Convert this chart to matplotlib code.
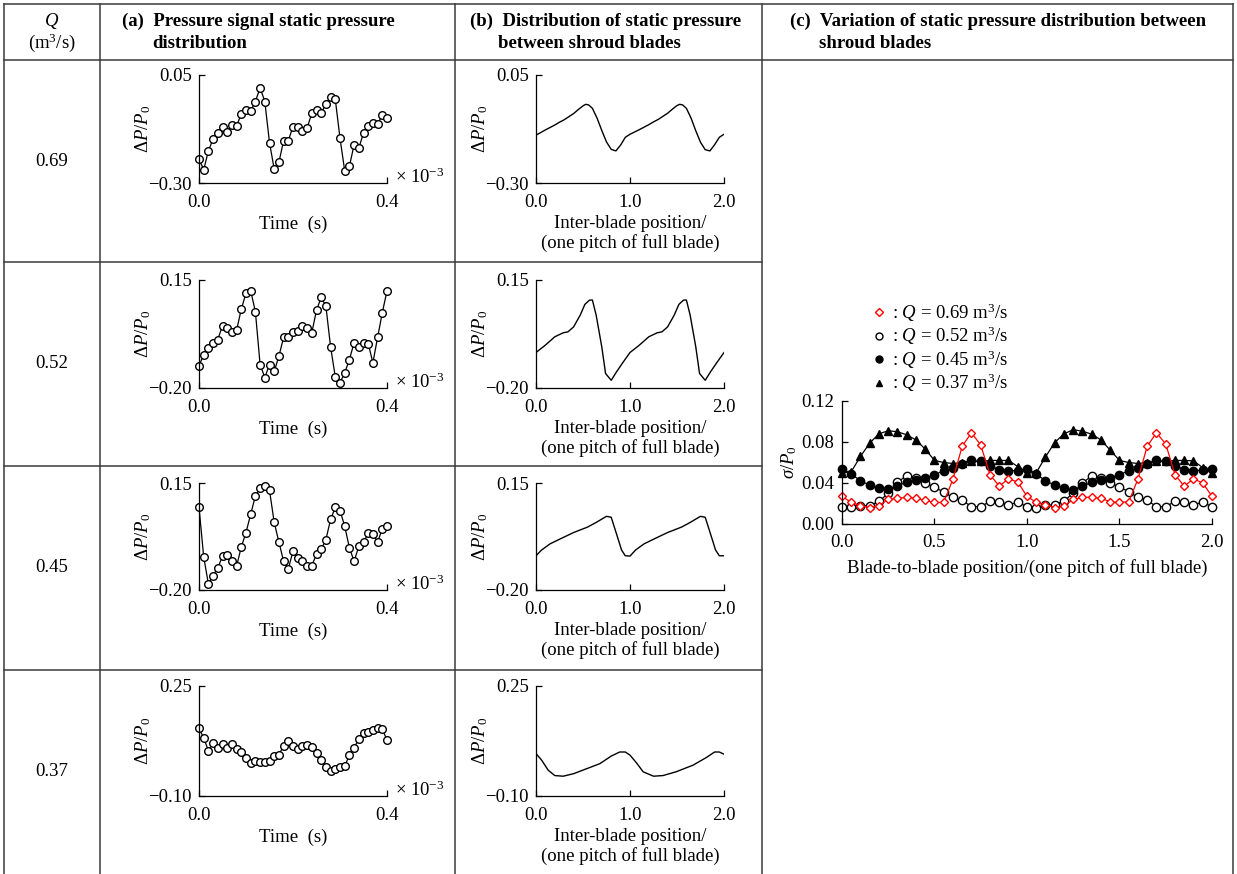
import numpy as np
import matplotlib
matplotlib.use('Agg')
import matplotlib.pyplot as plt
from matplotlib.lines import Line2D

plt.rcParams['font.family'] = ['Liberation Serif', 'DejaVu Serif']
plt.rcParams['mathtext.fontset'] = 'custom'
plt.rcParams['mathtext.rm'] = 'Liberation Serif'
plt.rcParams['mathtext.it'] = 'Liberation Serif:italic'
plt.rcParams['mathtext.bf'] = 'Liberation Serif:bold'
plt.rcParams['font.size'] = 13.5

W, H = 1237, 874
FS = 13.5

# flow rates, one table row each
flow_rates = ['0.69', '0.52', '0.45', '0.37']

# (a) pressure signal, time in 1e-3 s
time_ms = np.linspace(0.0, 0.4, 41)
signal_069 = [-0.222, -0.257, -0.196, -0.157, -0.138, -0.117, -0.136, -0.112, -0.114, -0.077,
              -0.063, -0.066, -0.036, 0.009, -0.036, -0.169, -0.255, -0.233, -0.163, -0.163,
              -0.117, -0.117, -0.131, -0.122, -0.074, -0.065, -0.072, -0.045, -0.020, -0.029,
              -0.155, -0.260, -0.246, -0.176, -0.187, -0.138, -0.114, -0.106, -0.109, -0.079,
              -0.090]
signal_052 = [-0.128, -0.092, -0.070, -0.054, -0.043, 0.002, -0.004, -0.018, -0.013, 0.056,
              0.107, 0.115, 0.047, -0.124, -0.166, -0.124, -0.146, -0.097, -0.036, -0.034,
              -0.018, -0.015, 0.000, -0.007, -0.021, 0.052, 0.094, 0.065, -0.067, -0.164,
              -0.183, -0.151, -0.108, -0.053, -0.067, -0.054, -0.056, -0.118, -0.036, 0.044,
              0.115]
signal_045 = [0.071, -0.092, -0.180, -0.153, -0.127, -0.090, -0.087, -0.105, -0.122, -0.059,
              -0.012, 0.048, 0.108, 0.133, 0.139, 0.126, 0.021, -0.043, -0.106, -0.131,
              -0.073, -0.095, -0.105, -0.120, -0.120, -0.083, -0.067, -0.035, 0.031, 0.070,
              0.060, 0.009, -0.062, -0.106, -0.057, -0.043, -0.015, -0.018, -0.043, 0.000,
              0.010]
signal_037 = [0.115, 0.085, 0.044, 0.069, 0.054, 0.065, 0.054, 0.067, 0.048, 0.040,
              0.022, 0.006, 0.011, 0.009, 0.009, 0.012, 0.028, 0.032, 0.059, 0.074,
              0.059, 0.051, 0.059, 0.062, 0.056, 0.038, 0.014, -0.009, -0.021, -0.015,
              -0.007, -0.005, 0.030, 0.054, 0.081, 0.102, 0.104, 0.110, 0.117, 0.113,
              0.078]
signals = [signal_069, signal_052, signal_045, signal_037]

# (b) static pressure between shroud blades
pos_069 = [0.0, 0.1, 0.2, 0.25, 0.3, 0.4, 0.45, 0.5, 0.53, 0.56, 0.6, 0.65, 0.7, 0.75, 0.8, 0.85, 0.9, 0.95,
           1.0, 1.1, 1.2, 1.25, 1.3, 1.4, 1.45, 1.5, 1.53, 1.56, 1.6, 1.65, 1.7, 1.75, 1.8, 1.85, 1.9, 1.95, 2.0]
dist_069 = [-0.145, -0.128, -0.112, -0.103, -0.095, -0.075, -0.062, -0.050, -0.045, -0.047, -0.058, -0.090,
            -0.130, -0.167, -0.191, -0.196, -0.177, -0.152,
            -0.142, -0.127, -0.111, -0.102, -0.094, -0.074, -0.061, -0.049, -0.045, -0.047, -0.058, -0.090,
            -0.131, -0.168, -0.192, -0.196, -0.176, -0.152, -0.142]
pos_052 = [0.0, 0.1, 0.2, 0.29, 0.34, 0.4, 0.47, 0.52, 0.57, 0.6, 0.64, 0.7, 0.74, 0.8, 0.86, 0.93,
           1.0, 1.1, 1.2, 1.29, 1.34, 1.4, 1.47, 1.52, 1.57, 1.6, 1.64, 1.7, 1.74, 1.8, 1.86, 1.93, 2.0]
dist_052 = [-0.085, -0.061, -0.034, -0.021, -0.018, -0.002, 0.036, 0.071, 0.085, 0.085,
            0.036, -0.067, -0.153, -0.175, -0.146, -0.115,
            -0.085, -0.061, -0.034, -0.021, -0.018, -0.002, 0.036, 0.071, 0.085, 0.085,
            0.036, -0.067, -0.153, -0.175, -0.146, -0.115, -0.085]
pos_045 = [0.0, 0.06, 0.15, 0.25, 0.4, 0.55, 0.64, 0.75, 0.8, 0.86, 0.91, 0.95,
           1.0, 1.06, 1.15, 1.25, 1.4, 1.55, 1.64, 1.75, 1.8, 1.86, 1.91, 1.95, 2.0]
dist_045 = [-0.088, -0.069, -0.049, -0.034, -0.012, 0.006, 0.021, 0.041, 0.038, -0.020, -0.069, -0.088,
            -0.089, -0.069, -0.049, -0.034, -0.012, 0.006, 0.021, 0.041, 0.038, -0.020, -0.069, -0.088,
            -0.088]
pos_037 = [0.0, 0.06, 0.13, 0.2, 0.29, 0.4, 0.54, 0.68, 0.8, 0.89, 0.95, 1.0,
           1.07, 1.14, 1.25, 1.35, 1.49, 1.67, 1.81, 1.9, 1.95, 2.0]
dist_037 = [0.035, 0.014, -0.018, -0.035, -0.037, -0.029, -0.013, 0.003, 0.027, 0.040, 0.040, 0.030,
            0.005, -0.023, -0.037, -0.035, -0.023, -0.002, 0.022, 0.040, 0.040, 0.033]
positions = [pos_069, pos_052, pos_045, pos_037]
distributions = [dist_069, dist_052, dist_045, dist_037]

ylims = [(-0.30, 0.05), (-0.20, 0.15), (-0.20, 0.15), (-0.10, 0.25)]
ylabels_txt = [('\u22120.30', '0.05'), ('\u22120.20', '0.15'), ('\u22120.20', '0.15'), ('\u22120.10', '0.25')]

# (c) standard deviation of static pressure
pos_c = np.linspace(0.0, 2.0, 41)
sigma_069 = [0.027, 0.021, 0.018, 0.016, 0.018, 0.024, 0.025, 0.026, 0.025, 0.023,
             0.021, 0.021, 0.044, 0.076, 0.089, 0.077, 0.048, 0.037, 0.044, 0.041,
             0.027, 0.021, 0.0185, 0.016, 0.0175, 0.024, 0.026, 0.026, 0.025, 0.0217,
             0.021, 0.0217, 0.044, 0.076, 0.089, 0.078, 0.048, 0.037, 0.044, 0.040,
             0.027]
sigma_052 = [0.017, 0.017, 0.018, 0.018, 0.022, 0.030, 0.041, 0.047, 0.045, 0.040,
             0.036, 0.031, 0.026, 0.023, 0.017, 0.017, 0.022, 0.021, 0.019, 0.021,
             0.017, 0.016, 0.0185, 0.0185, 0.0227, 0.030, 0.040, 0.047, 0.045, 0.040,
             0.036, 0.0315, 0.026, 0.023, 0.017, 0.017, 0.022, 0.021, 0.019, 0.021,
             0.017]
sigma_045 = [0.054, 0.049, 0.042, 0.038, 0.035, 0.034, 0.037, 0.041, 0.043, 0.045,
             0.048, 0.052, 0.055, 0.059, 0.062, 0.061, 0.057, 0.053, 0.052, 0.052,
             0.054, 0.049, 0.042, 0.038, 0.035, 0.033, 0.037, 0.0405, 0.043, 0.045,
             0.048, 0.052, 0.055, 0.059, 0.062, 0.061, 0.057, 0.053, 0.052, 0.0525,
             0.054]
sigma_037 = [0.050, 0.051, 0.066, 0.079, 0.088, 0.091, 0.090, 0.087, 0.082, 0.073,
             0.062, 0.060, 0.059, 0.060, 0.061, 0.061, 0.062, 0.062, 0.062, 0.056,
             0.050, 0.050, 0.0655, 0.0795, 0.088, 0.092, 0.0905, 0.0876, 0.082, 0.072,
             0.062, 0.060, 0.059, 0.060, 0.061, 0.061, 0.062, 0.062, 0.0616, 0.055,
             0.050]
legend_txt = [r': $Q$ = 0.69 m$^3$/s', r': $Q$ = 0.52 m$^3$/s',
              r': $Q$ = 0.45 m$^3$/s', r': $Q$ = 0.37 m$^3$/s']


def px_axes(fig, x0, y0, x1, y1):
    # axes placed by pixel box (top-left origin)
    return fig.add_axes([x0 / W, 1 - y1 / H, (x1 - x0) / W, (y1 - y0) / H])


def style_axes(ax):
    ax.spines['top'].set_visible(False)
    ax.spines['right'].set_visible(False)
    for s in ('left', 'bottom'):
        ax.spines[s].set_linewidth(0.9)
    ax.tick_params(direction='in', length=4, width=0.9, labelsize=FS)
    ax.tick_params(axis='x', pad=8)
    ax.tick_params(axis='y', pad=5)


fig = plt.figure(figsize=(W / 100, H / 100), dpi=100)

# table grid: column (c) is one merged cell below the header
line_kw = dict(color='#3a3a3a', lw=1.1)
col_edges = [4, 100, 455, 762, 1233]
for y in [4, 60]:
    fig.add_artist(Line2D([4 / W, 1233 / W], [1 - y / H, 1 - y / H], **line_kw))
for y in [262, 466, 670]:
    fig.add_artist(Line2D([4 / W, 762 / W], [1 - y / H, 1 - y / H], **line_kw))
for x in col_edges:
    fig.add_artist(Line2D([x / W, x / W], [1 - 4 / H, 0], **line_kw))

# header
fig.text(52 / W, 1 - 21 / H, r'$Q$', ha='center', va='center', fontsize=FS)
fig.text(52 / W, 1 - 43 / H, r'(m$^3$/s)', ha='center', va='center', fontsize=FS)
hdr = dict(fontweight='bold', fontsize=FS, va='center', ha='left')
fig.text(122 / W, 1 - 21 / H, '(a)  Pressure signal static pressure', **hdr)
fig.text(152 / W, 1 - 43 / H, 'distribution', **hdr)
fig.text(470 / W, 1 - 21 / H, '(b)  Distribution of static pressure', **hdr)
fig.text(498 / W, 1 - 43 / H, 'between shroud blades', **hdr)
fig.text(790 / W, 1 - 21 / H, '(c)  Variation of static pressure distribution between', **hdr)
fig.text(819 / W, 1 - 43 / H, 'shroud blades', **hdr)

ax_tops = [75, 280, 483, 686]
ax_bots = [183, 388, 590, 796]
row_mid = [161, 364, 568, 772]

for i in range(4):
    fig.text(52 / W, 1 - row_mid[i] / H, flow_rates[i], ha='center', va='center', fontsize=FS)
    lo, hi = ylims[i]

    # (a) time signal
    ax = px_axes(fig, 199, ax_tops[i], 387, ax_bots[i])
    ax.plot(time_ms, signals[i], color='black', lw=0.9, marker='o', ms=5.5,
            mfc='white', mec='black', mew=1.0, clip_on=False)
    ax.set_xlim(0, 0.4)
    ax.set_ylim(lo, hi)
    ax.set_xticks([0, 0.4])
    ax.set_xticklabels(['0.0', '0.4'])
    ax.set_yticks([lo, hi])
    ax.set_yticklabels(ylabels_txt[i])
    style_axes(ax)
    ax.set_ylabel(r'$\mathit{\Delta P/P}_0$', fontsize=FS, labelpad=-3)
    ax.set_xlabel('Time  (s)', fontsize=FS, labelpad=3)
    ax.text(1.04, 0.05, r'$\times\ 10^{-3}$', transform=ax.transAxes,
            ha='left', va='center', fontsize=FS)

    # (b) inter-blade distribution
    ax = px_axes(fig, 536, ax_tops[i], 724, ax_bots[i])
    ax.plot(positions[i], distributions[i], color='black', lw=1.0)
    ax.set_xlim(0, 2)
    ax.set_ylim(lo, hi)
    ax.set_xticks([0, 1, 2])
    ax.set_xticklabels(['0.0', '1.0', '2.0'])
    ax.set_yticks([lo, hi])
    ax.set_yticklabels(ylabels_txt[i])
    style_axes(ax)
    ax.set_ylabel(r'$\mathit{\Delta P/P}_0$', fontsize=FS, labelpad=-3)
    ax.set_xlabel('Inter-blade position/\n(one pitch of full blade)', fontsize=FS,
                  labelpad=3, linespacing=1.1)

# (c) sigma between shroud blades
axc = px_axes(fig, 842, 401, 1212, 524)
mk = dict(ms=6, mew=1.0, lw=0.9, clip_on=False)
axc.plot(pos_c, sigma_052, color='black', marker='o', mfc='white', mec='black', **mk)
axc.plot(pos_c, sigma_045, color='black', marker='o', mfc='black', mec='black', **mk)
axc.plot(pos_c, sigma_037, color='black', marker='^', mfc='black', mec='black', **mk)
axc.plot(pos_c, sigma_069, color='red', marker='D', mfc='white', mec='red',
         ms=4.5, mew=1.0, lw=0.9, clip_on=False)
axc.set_xlim(0, 2)
axc.set_ylim(0, 0.12)
axc.set_xticks([0, 0.5, 1.0, 1.5, 2.0])
axc.set_xticklabels(['0.0', '0.5', '1.0', '1.5', '2.0'])
axc.set_yticks([0, 0.04, 0.08, 0.12])
axc.set_yticklabels(['0.00', '0.04', '0.08', '0.12'])
style_axes(axc)
axc.tick_params(axis='x', pad=7)
axc.tick_params(axis='y', pad=6)
axc.set_ylabel(r'$\sigma/P_0$', fontsize=FS, labelpad=1)
axc.set_xlabel('Blade-to-blade position/(one pitch of full blade)', fontsize=FS, labelpad=6)

handles = [Line2D([], [], ls='none', marker='D', ms=4, mfc='white', mec='red', mew=1.0),
           Line2D([], [], ls='none', marker='o', ms=5, mfc='white', mec='black', mew=1.0),
           Line2D([], [], ls='none', marker='o', ms=5, mfc='black', mec='black'),
           Line2D([], [], ls='none', marker='^', ms=5, mfc='black', mec='black')]
fig.legend(handles, legend_txt, loc='upper left', bbox_to_anchor=(862 / W, 1 - 292 / H),
           frameon=False, handlelength=0.8, handletextpad=0.3, labelspacing=0.06,
           borderpad=0, fontsize=FS)

fig.savefig('out.png', dpi=100)
